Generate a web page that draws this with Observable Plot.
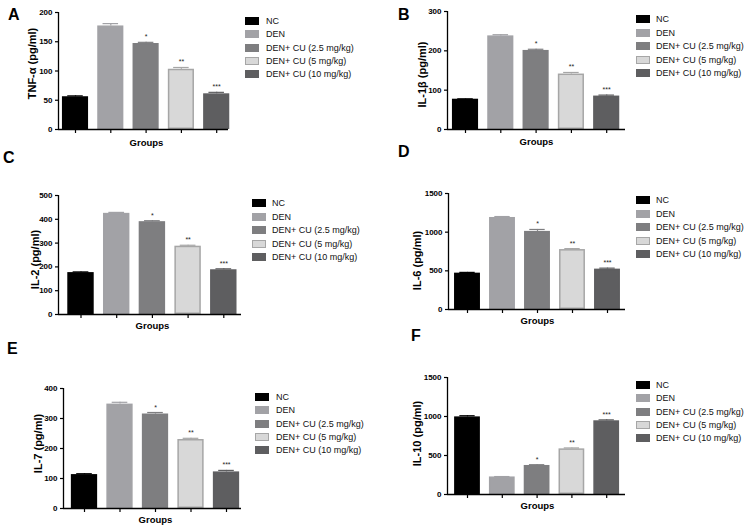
<!DOCTYPE html>
<html><head><meta charset="utf-8">
<script src="https://cdn.jsdelivr.net/npm/d3@7"></script>
<script src="https://cdn.jsdelivr.net/npm/@observablehq/plot@0.6"></script>
<style>
body{margin:0;background:#fff;}
#fig{position:relative;width:753px;height:527px;overflow:hidden;font-family:"Liberation Sans",Arial,sans-serif;background:#fff;}
.letter{position:absolute;font-weight:bold;font-size:16px;line-height:16px;color:#000;}
.lg{position:absolute;font-size:9px;line-height:10px;white-space:nowrap;color:#111;}
.sw{position:absolute;width:14px;height:8px;box-sizing:border-box;}
</style></head><body><div id="fig"></div>
<script>
// ---- data ----
const groups = ["NC", "DEN", "DEN+ CU (2.5 mg/kg)", "DEN+ CU (5 mg/kg)", "DEN+ CU (10 mg/kg)"];
const stars = ["", "", "*", "**", "***"];
const fills = ["#000000", "#a2a2a6", "#7e7e80", "#d8d8d8", "#5e5e60"];
const strokes = ["#000000", "#a2a2a6", "#7e7e80", "#a6a6a6", "#5e5e60"];
const panelLetters = ["A", "B", "C", "D", "E", "F"];
const yTitles = ["TNF-\u03b1 (pg/ml)", "IL-1\u03b2 (pg/ml)", "IL-2 (pg/ml)", "IL-6 (pg/ml)", "IL-7 (pg/ml)", "IL-10 (pg/ml)"];
const xTitle = "Groups";

const tnfMean = [56, 177, 147, 103, 61];
const tnfErr  = [57.5, 181, 149, 106, 63.5];
const il1bMean = [77, 238, 201, 141, 85];
const il1bErr  = [78, 241, 204, 145, 87.5];
const il2Mean = [176, 425, 390, 287, 188];
const il2Err  = [179, 429, 394, 291, 192];
const il6Mean = [470, 1190, 1010, 775, 522];
const il6Err  = [480, 1202, 1035, 787, 535];
const il7Mean = [113, 348, 315, 230, 122];
const il7Err  = [116, 354, 320, 234, 127];
const il10Mean = [995, 225, 372, 585, 945];
const il10Err  = [1010, 230, 382, 597, 957];

const yTicksA = [0, 50, 100, 150, 200];
const yTicksB = [0, 100, 200, 300];
const yTicksC = [0, 100, 200, 300, 400, 500];
const yTicksD = [0, 500, 1000, 1500];
const yTicksE = [0, 100, 200, 300, 400];
const yTicksF = [0, 500, 1000, 1500];

const means = [tnfMean, il1bMean, il2Mean, il6Mean, il7Mean, il10Mean];
const errs = [tnfErr, il1bErr, il2Err, il6Err, il7Err, il10Err];
const yTicks = [yTicksA, yTicksB, yTicksC, yTicksD, yTicksE, yTicksF];

// ---- layout (pixels) ----
const layout = [
  {left:58,  right:228, top:12,  bottom:129, t0:75,   step:35.3, title:[32,63],   groups:[146,142], letter:[8,20],     lg:{sw:245, tx:266, y0:21,  dy:13.3}},
  {left:447, right:625, top:11,  bottom:129, t0:465,  step:35.3, title:[422,74],  groups:[536,141], letter:[398,20],   lg:{sw:636, tx:656, y0:19,  dy:13.5}},
  {left:58,  right:241, top:195, bottom:314, t0:80.5, step:35.7, title:[35,259],  groups:[152,325], letter:[3,163.5],  lg:{sw:252, tx:272, y0:203, dy:13.5}},
  {left:448, right:625, top:193, bottom:309, t0:467,  step:35,   title:[417,260], groups:[537,320], letter:[398,157],  lg:{sw:636, tx:656, y0:200, dy:13.5}},
  {left:63,  right:241, top:388, bottom:508, t0:84,   step:35.5, title:[38,443],  groups:[155,519], letter:[7,354],    lg:{sw:255, tx:276, y0:397, dy:13.3}},
  {left:447, right:625, top:377, bottom:494, t0:467,  step:34.8, title:[417,433], groups:[537,505], letter:[411,341],  lg:{sw:636, tx:656, y0:385, dy:13.3}}
];

const W = 753, H = 527;
const fig = document.getElementById("fig");
const hw = 0.37, cap = 0.22;

layout.forEach((L, p) => {
  const rows = groups.map((g, i) => ({i, g, v: means[p][i], e: errs[p][i], star: stars[i], fill: fills[i], stroke: strokes[i]}));
  const ticks = yTicks[p];
  const xa = (L.left - L.t0) / L.step, xb = (L.right - L.t0) / L.step;
  const chart = Plot.plot({
    width: W, height: H,
    marginLeft: L.left, marginRight: W - L.right, marginTop: L.top, marginBottom: H - L.bottom,
    x: {type: "linear", domain: [xa, xb], axis: null},
    y: {domain: [0, ticks[ticks.length - 1]], axis: null},
    style: {position: "absolute", left: "0px", top: "0px", background: "transparent", overflow: "visible",
            fontFamily: "'Liberation Sans', Arial, sans-serif", fontSize: "8px", fontWeight: "bold", color: "#000"},
    marks: [
      Plot.rect(rows, {x1: d => d.i - hw, x2: d => d.i + hw, y1: 0, y2: "v", fill: "fill", stroke: "stroke", strokeWidth: 1.5, inset: 0.75}),
      Plot.ruleX(rows, {x: "i", y1: "v", y2: "e", stroke: "stroke", strokeWidth: 1.2}),
      Plot.ruleY(rows, {y: "e", x1: d => d.i - cap, x2: d => d.i + cap, stroke: "stroke", strokeWidth: 1.2}),
      Plot.text(rows, {x: "i", y: "e", text: "star", dy: -3, lineAnchor: "bottom", fontSize: 7, fontWeight: "normal", fill: "#222"}),
      Plot.ruleX([xa], {stroke: "#000", strokeWidth: 1.3}),
      Plot.ruleY([0], {stroke: "#000", strokeWidth: 1.3}),
      Plot.axisY({ticks: ticks, tickSize: 3, tickPadding: 3, tickFormat: d => String(d), label: null, strokeWidth: 1.2}),
      Plot.axisX({ticks: [0, 1, 2, 3, 4], tickSize: 4, tickFormat: () => "", label: null, strokeWidth: 1.2}),
      Plot.text([yTitles[p]], {frameAnchor: "left", text: d => d, rotate: -90, textAnchor: "middle", lineAnchor: "middle",
        dx: L.title[0] - L.left, dy: L.title[1] - (L.top + L.bottom) / 2, fontSize: 11, fontWeight: "bold"}),
      Plot.text([xTitle], {frameAnchor: "bottom", text: d => d, textAnchor: "middle", lineAnchor: "middle",
        dx: L.groups[0] - (L.left + L.right) / 2, dy: L.groups[1] - L.bottom, fontSize: 9.5, fontWeight: "bold"})
    ]
  });
  fig.appendChild(chart);

  const lt = document.createElement("div");
  lt.className = "letter";
  lt.textContent = panelLetters[p];
  lt.style.left = L.letter[0] + "px";
  lt.style.top = (L.letter[1] - 13.5) + "px";
  fig.appendChild(lt);

  groups.forEach((g, i) => {
    const cy = L.lg.y0 + i * L.lg.dy;
    const sw = document.createElement("div");
    sw.className = "sw";
    sw.style.left = L.lg.sw + "px";
    sw.style.top = (cy - 4) + "px";
    sw.style.background = fills[i];
    sw.style.border = "1px solid " + strokes[i];
    fig.appendChild(sw);
    const tx = document.createElement("div");
    tx.className = "lg";
    tx.textContent = g;
    tx.style.left = L.lg.tx + "px";
    tx.style.top = (cy - 5) + "px";
    fig.appendChild(tx);
  });
});
</script></body></html>
